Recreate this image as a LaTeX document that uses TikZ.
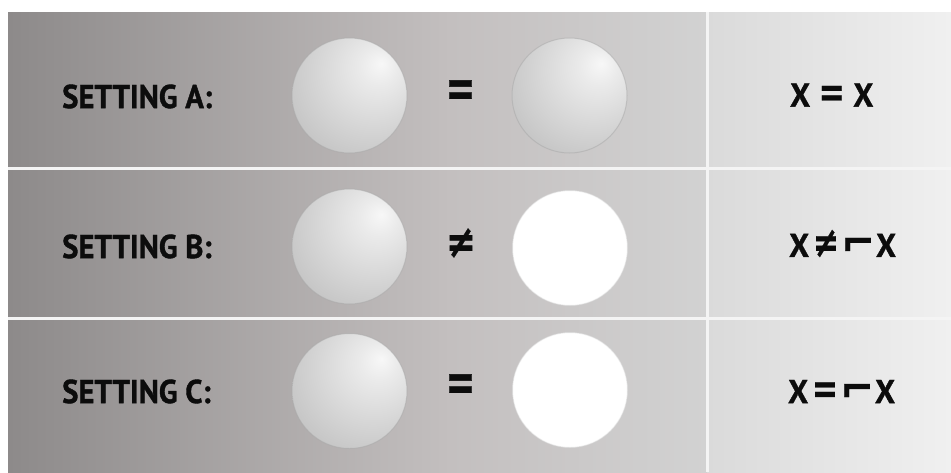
\documentclass[tikz,border=0pt]{standalone}
\usepackage{fontspec}
\setmainfont{PT Sans}[BoldFeatures={FakeBold=1.2}]
\newfontfamily\symfont{DejaVu Sans}[BoldFeatures={FakeBold=0.6}]
\definecolor{bgA}{HTML}{8D8A8A}
\definecolor{bgB}{HTML}{C3BFBF}
\definecolor{bgC}{HTML}{D2D2D2}
\definecolor{bgD}{HTML}{DADADA}
\definecolor{bgE}{HTML}{F0F0F0}
\definecolor{divcol}{HTML}{F4F4F4}
\definecolor{inkcol}{HTML}{0C0C0C}
\pgfdeclareradialshading{graysphere}{\pgfpoint{14bp}{14bp}}{color(0bp)=(white!97!black); color(8bp)=(white!92!black); color(20bp)=(white!86!black); color(32bp)=(white!80!black); color(44bp)=(white!74!black); color(54bp)=(white!68!black); color(63bp)=(white!62!black); color(70bp)=(white!57!black); color(90bp)=(white!57!black)}
\pgfdeclareradialshading{whitesphere}{\pgfpoint{10bp}{10bp}}{color(0bp)=(white); color(38bp)=(white); color(48bp)=(white!98!black); color(56bp)=(white!95!black); color(64bp)=(white!90!black); color(90bp)=(white!90!black)}
\tikzset{
  sphgray/.style={circle, inner sep=0pt, minimum size=115pt, shading=graysphere, draw=white!66!black, draw opacity=0.5, line width=1pt},
  sphwhite/.style={circle, inner sep=0pt, minimum size=115pt, shading=whitesphere, draw=white!86!black, draw opacity=0.5, line width=1pt},
  lbl/.style={anchor=west, inner sep=0pt, text=inkcol, font=\fontsize{33}{36}\selectfont\bfseries},
  rel/.style={inner sep=0pt, text=inkcol, font=\fontsize{34}{36}\symfont\bfseries},
  frm/.style={anchor=west, inner sep=0pt, text=inkcol, font=\fontsize{33}{36}\selectfont\bfseries},
  divider/.style={draw=divcol, line width=3pt}
}
\begin{document}
\begin{tikzpicture}[x=1pt,y=-1pt]
\useasboundingbox (0,0) rectangle (951,472);
\fill[white] (0,0) rectangle (951,472);
\shade[left color=bgA, right color=bgB] (8,12) rectangle (450.5,472);
\shade[left color=bgB, right color=bgC] (450,12) rectangle (707,472);
\shade[left color=bgD, right color=bgE] (707,12) rectangle (951,472);
% dividers
\draw[divider] (8,168) -- (951,168);
\draw[divider] (8,318) -- (951,318);
\draw[divider] (707,12) -- (707,472);
% row A
\node[lbl] (la) at (62,96.5) {\scalebox{0.93}[1]{SETTING A:}};
\node[sphgray] (a1) at (349.5,95.5) {};
\node[rel] (ra) at (460.5,93.5) {\scalebox{1.05}[1.6]{=}};
\node[sphgray] (a2) at (569.5,95.5) {};
\node[frm] (fa) at (790,95) {\scalebox{0.95}[1]{X\hspace{9pt}{\symfont\scalebox{1}[1.3]{=}}\hspace{9pt}X}};
% row B
\node[lbl] (lb) at (62,246.5) {\scalebox{0.93}[1]{SETTING B:}};
\node[sphgray] (b1) at (349.5,246.5) {};
\node[rel] (rb) at (461,243) {\scalebox{1.05}[1.35]{≠}};
\node[sphwhite] (b2) at (570,248) {};
\node[frm] (fb) at (789,243.5) {\scalebox{0.95}[1]{X\hspace{4pt}{\symfont\scalebox{1}[1.3]{≠}\hspace{2pt}\scalebox{1.3}[1.3]{⌐}}\hspace{1pt}X}};
% row C
\node[lbl] (lc) at (62,391.5) {\scalebox{0.93}[1]{SETTING C:}};
\node[sphgray] (c1) at (349.5,391) {};
\node[rel] (rc) at (460.5,387.5) {\scalebox{1.05}[1.6]{=}};
\node[sphwhite] (c2) at (570,390) {};
\node[frm] (fc) at (788,391.5) {\scalebox{0.95}[1]{X\hspace{4pt}{\symfont\scalebox{1}[1.3]{=}\hspace{2pt}\scalebox{1.3}[1.3]{⌐}}\hspace{1pt}X}};
\end{tikzpicture}
\end{document}
